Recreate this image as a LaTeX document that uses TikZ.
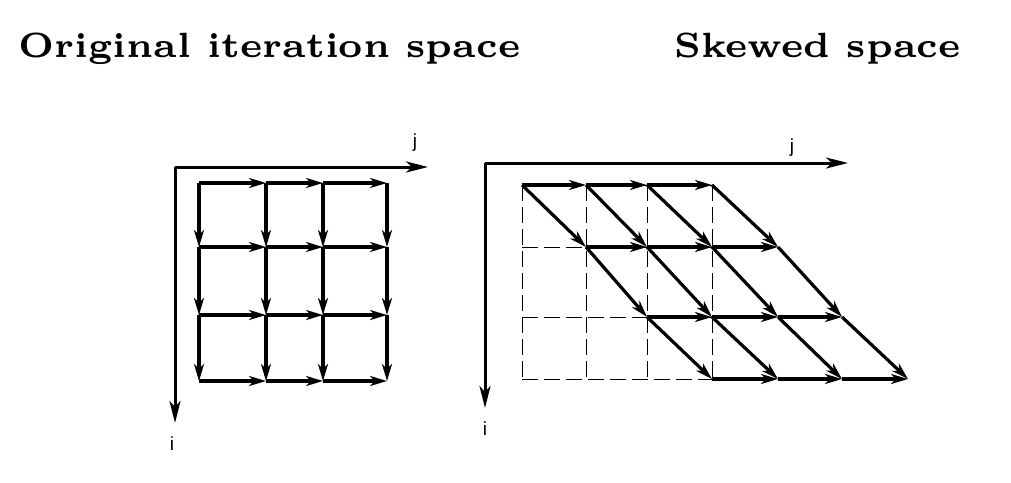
\documentclass[tikz,border=0pt]{standalone}
\usepackage{fontspec}
\usepackage{tikz}
\usetikzlibrary{arrows.meta}
\newfontfamily\axisfont{Liberation Sans}

\begin{document}
\begin{tikzpicture}[x=0.5pt,y=-0.5pt,
  flow/.style={line width=1.6pt,-{Stealth[length=8.5pt,width=5pt,inset=2.5pt]}},
  axis/.style={line width=1.5pt,-{Stealth[length=11pt,width=5.5pt,inset=3pt]}},
  gridline/.style={line width=0.4pt,dash pattern=on 8pt off 3pt},
  title/.style={anchor=base west,inner sep=0pt,font=\fontsize{6}{7}\selectfont\bfseries},
  axlabel/.style={anchor=base,inner sep=0pt,font=\axisfont\fontsize{9.5}{11}\selectfont}]
\useasboundingbox (0,0) rectangle (1011,482);
\node[title] (tOrig) at (18,57) {\scalebox{2.92}{Original iteration space}};
\node[title] (tSkew) at (674,57) {\scalebox{2.92}{Skewed space}};
% original iteration space
\coordinate (oL) at (175,167);
\coordinate (jL) at (428,167);
\coordinate (iL) at (175,423);
\draw[axis] (oL) -- (jL);
\draw[axis] (oL) -- (iL);
\node[axlabel] (jLab) at (415,147) {j};
\node[axlabel] (iLab) at (172,450) {i};
\foreach \x [count=\c from 0] in {199,266,323,387}
  \foreach \y [count=\r from 0] in {183,247,315,381}
    \coordinate (L\r\c) at (\x,\y);
\foreach \r in {0,...,3}
  \foreach \c/\n in {0/1,1/2,2/3}{\draw[flow] (L\r\c) -- (L\r\n);}
\foreach \c in {0,...,3}
  \foreach \r/\n in {0/1,1/2,2/3}{\draw[flow] (L\r\c) -- (L\n\c);}
% skewed space
\coordinate (oS) at (485,163);
\coordinate (jS) at (848,163);
\coordinate (iS) at (485,408);
\draw[axis] (oS) -- (jS);
\draw[axis] (oS) -- (iS);
\node[axlabel] (jSLab) at (792,152) {j};
\node[axlabel] (iSLab) at (485,435) {i};
\foreach \y [count=\r from 0] in {185,247,317,379}
  \foreach \c in {0,...,3}{
    \pgfmathsetmacro\xx{{522,586,647,712,778,842,908}[\r+\c]}
    \coordinate (S\r\c) at (\xx,\y);}
\foreach \c in {0,...,3}{\draw[gridline] (S0\c) -- (S0\c |- S30);}
\foreach \r in {0,...,3}{\draw[gridline] (S00 |- S\r0) -- (S30 |- S\r0);}
\foreach \r in {0,...,3}
  \foreach \c/\n in {0/1,1/2,2/3}{\draw[flow] (S\r\c) -- (S\r\n);}
\foreach \c in {0,...,3}
  \foreach \r/\n in {0/1,1/2,2/3}{\draw[flow] (S\r\c) -- (S\n\c);}
\end{tikzpicture}
\end{document}
